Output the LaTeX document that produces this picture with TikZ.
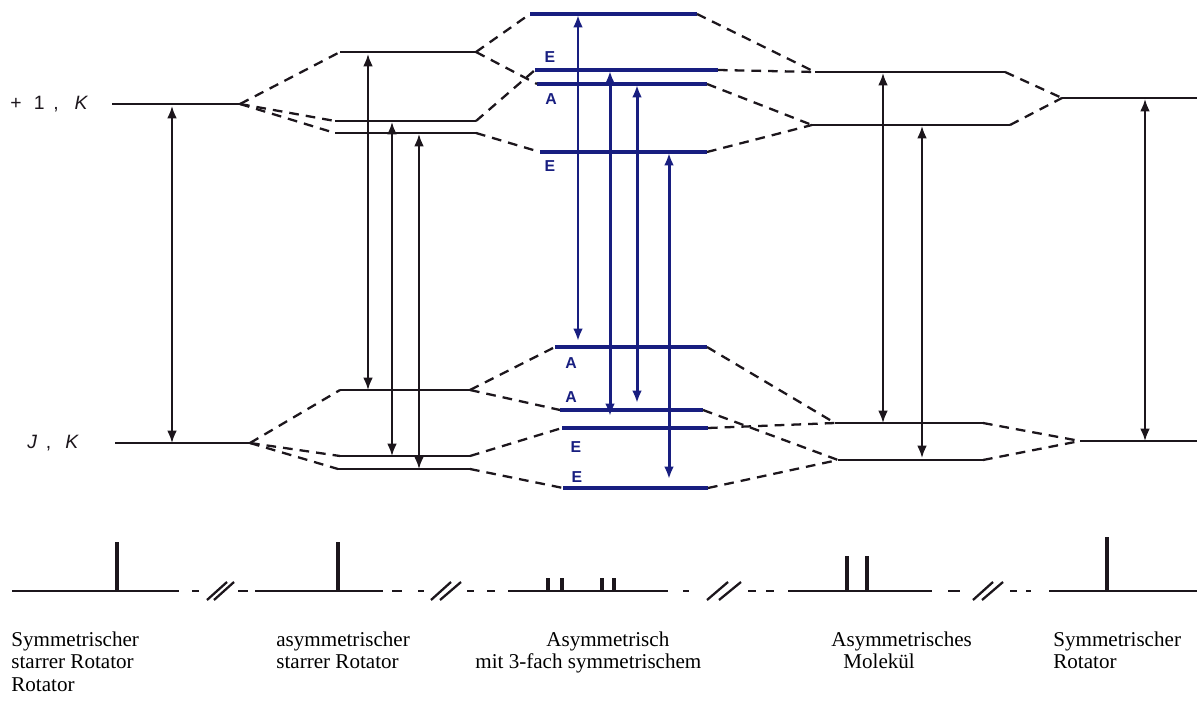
\documentclass[tikz,border=0pt]{standalone}
\usepackage{fontspec}
\setmainfont{Liberation Serif}
\setsansfont{Liberation Sans}
\usetikzlibrary{arrows.meta}
\definecolor{ink}{RGB}{28,22,28}
\definecolor{levelblue}{RGB}{24,30,128}

% energy level: name, x1, x2, y, style
\newcommand\energylevel[5]{%
  \coordinate (#1-w) at (#2,#4);
  \coordinate (#1-e) at (#3,#4);
  \draw[#5] (#1-w) -- (#1-e);}

\begin{document}
\begin{tikzpicture}[x=0.02cm,y=-0.02cm,
  level/.style={ink,line width=1.5pt},
  bluelevel/.style={levelblue,line width=2.1pt},
  corr/.style={ink,line width=1.3pt,dash pattern=on 5.5pt off 4pt},
  trans/.style={ink,line width=1.1pt,{Latex[length=7pt,width=5.5pt]}-{Latex[length=7pt,width=5.5pt]}},
  bluetrans/.style={levelblue,line width=1.7pt,{Latex[length=7pt,width=5.5pt]}-{Latex[length=7pt,width=5.5pt]}},
  sym/.style={levelblue,font=\sffamily\bfseries\fontsize{9}{9}\selectfont,inner sep=0pt},
  qn/.style={ink,font=\sffamily\fontsize{11}{11}\selectfont,anchor=west,inner sep=0pt},
  caption/.style={font=\fontsize{12}{13}\selectfont,anchor=base west,inner sep=0pt},
  base/.style={ink,line width=1.2pt},
  peak/.style={ink,line width=1.8pt},
  cut/.style={ink,line width=1.3pt}]
\useasboundingbox (0,0) rectangle (1197,719);

% ---------- symmetric rigid rotator ----------
\energylevel{s1u}{112}{240}{104}{level}
\energylevel{s1l}{115}{250}{443}{level}
\node[qn] (qnup) at (10,104) {+\hspace{7pt}1\hspace{5pt},\hspace{9pt}\textit{K}};
\node[qn] (qnlow) at (27,443) {\textit{J}\hspace{5pt},\hspace{8pt}\textit{K}};

% ---------- asymmetric rigid rotator ----------
\energylevel{a2}{340}{476}{52}{level}
\energylevel{b2}{335}{476}{121}{level}
\energylevel{c2}{335}{476}{133}{level}
\energylevel{d2}{340}{470}{390}{level}
\energylevel{e2}{340}{470}{456}{level}
\energylevel{f2}{338}{470}{469}{level}

% ---------- asymmetric with threefold symmetric top ----------
\energylevel{t1}{530}{697}{14}{bluelevel}
\energylevel{t2}{535}{718}{70}{bluelevel}
\energylevel{t3}{537}{707}{84}{bluelevel}
\energylevel{t4}{540}{707}{152}{bluelevel}
\energylevel{l1}{555}{707}{347}{bluelevel}
\energylevel{l2}{560}{703}{410}{bluelevel}
\energylevel{l3}{562}{708}{428}{bluelevel}
\energylevel{l4}{563}{708}{488}{bluelevel}
\node[sym] (symE1) at (550,57) {E};
\node[sym] (symA1) at (551,99) {A};
\node[sym] (symE2) at (550,166) {E};
\node[sym] (symA2) at (571,363) {A};
\node[sym] (symA3) at (571,397) {A};
\node[sym] (symE3) at (576,447) {E};
\node[sym] (symE4) at (577,477) {E};

% ---------- asymmetric molecule ----------
\energylevel{m1}{815}{1005}{72}{level}
\energylevel{m2}{812}{1010}{125}{level}
\energylevel{m3}{835}{983}{423}{level}
\energylevel{m4}{838}{983}{460}{level}

% ---------- symmetric rotator ----------
\energylevel{r1}{1062}{1197}{98}{level}
\energylevel{r2}{1080}{1197}{441}{level}

% ---------- correlation lines ----------
\draw[corr] (s1u-e) -- (a2-w);
\draw[corr] (s1u-e) -- (b2-w);
\draw[corr] (s1u-e) -- (c2-w);
\draw[corr] (s1l-e) -- (d2-w);
\draw[corr] (s1l-e) -- (e2-w);
\draw[corr] (s1l-e) -- (f2-w);
\draw[corr] (a2-e) -- (t1-w);
\draw[corr] (a2-e) -- (t3-w);
\draw[corr] (b2-e) -- (t2-w);
\draw[corr] (c2-e) -- (t4-w);
\draw[corr] (d2-e) -- (l1-w);
\draw[corr] (d2-e) -- (l2-w);
\draw[corr] (e2-e) -- (l3-w);
\draw[corr] (f2-e) -- (l4-w);
\draw[corr] (t1-e) -- (m1-w);
\draw[corr] (t2-e) -- (m1-w);
\draw[corr] (t3-e) -- (m2-w);
\draw[corr] (t4-e) -- (m2-w);
\draw[corr] (l1-e) -- (m3-w);
\draw[corr] (l3-e) -- (m3-w);
\draw[corr] (l2-e) -- (m4-w);
\draw[corr] (l4-e) -- (m4-w);
\draw[corr] (m1-e) -- (r1-w);
\draw[corr] (m2-e) -- (r1-w);
\draw[corr] (m3-e) -- (r2-w);
\draw[corr] (m4-e) -- (r2-w);

% ---------- transitions ----------
\coordinate (k1a) at (172,106); \coordinate (k1b) at (172,443);
\coordinate (k2a) at (368,54);  \coordinate (k2b) at (368,390);
\coordinate (k3a) at (392,122); \coordinate (k3b) at (392,456);
\coordinate (k4a) at (419,134); \coordinate (k4b) at (419,469);
\coordinate (k5a) at (578,15);  \coordinate (k5b) at (578,341);
\coordinate (k6a) at (610,71);  \coordinate (k6b) at (610,416);
\coordinate (k7a) at (637,85);  \coordinate (k7b) at (637,403);
\coordinate (k8a) at (669,153); \coordinate (k8b) at (669,479);
\coordinate (k9a) at (883,73);  \coordinate (k9b) at (883,423);
\coordinate (k10a) at (922,126); \coordinate (k10b) at (922,458);
\coordinate (k11a) at (1145,99); \coordinate (k11b) at (1145,441);
\draw[trans] (k1a) -- (k1b);
\draw[trans] (k2a) -- (k2b);
\draw[trans] (k3a) -- (k3b);
\draw[trans] (k4a) -- (k4b);
\draw[bluetrans] (k5a) -- (k5b);
\draw[bluetrans] (k6a) -- (k6b);
\draw[bluetrans] (k7a) -- (k7b);
\draw[bluetrans] (k8a) -- (k8b);
\draw[trans] (k9a) -- (k9b);
\draw[trans] (k10a) -- (k10b);
\draw[trans] (k11a) -- (k11b);

% ---------- spectra along a broken axis ----------
\def\by{591}
\def\cl{600}
\def\ch{582}
\draw[base] (12,\by) -- (179,\by);
\draw[peak] (117,\by) -- (117,542);
\draw[base] (192,\by) -- (199,\by);
\draw[cut] (207,\cl) -- (227,\ch);
\draw[cut] (214,\cl) -- (234,\ch);
\draw[base] (238,\by) -- (248,\by);
\draw[base] (255,\by) -- (383,\by);
\draw[peak] (338,\by) -- (338,542);
\draw[base] (392,\by) -- (402,\by);
\draw[base] (418,\by) -- (424,\by);
\draw[cut] (431,\cl) -- (451,\ch);
\draw[cut] (440,\cl) -- (461,\ch);
\draw[base] (467,\by) -- (474,\by);
\draw[base] (487,\by) -- (495,\by);
\draw[base] (508,\by) -- (668,\by);
\draw[peak] (548,\by) -- (548,578);
\draw[peak] (562,\by) -- (562,578);
\draw[peak] (602,\by) -- (602,578);
\draw[peak] (614,\by) -- (614,578);
\draw[base] (683,\by) -- (689,\by);
\draw[cut] (707,\cl) -- (728,\ch);
\draw[cut] (719,\cl) -- (741,\ch);
\draw[base] (748,\by) -- (756,\by);
\draw[base] (766,\by) -- (774,\by);
\draw[base] (788,\by) -- (932,\by);
\draw[peak] (847,\by) -- (847,556);
\draw[peak] (867,\by) -- (867,556);
\draw[base] (948,\by) -- (960,\by);
\draw[cut] (973,\cl) -- (993,\ch);
\draw[cut] (982,\cl) -- (1003,\ch);
\draw[base] (1010,\by) -- (1017,\by);
\draw[base] (1026,\by) -- (1031,\by);
\draw[base] (1049,\by) -- (1197,\by);
\draw[peak] (1107,\by) -- (1107,537);

% ---------- captions ----------
\node[caption] (c1a) at (11,646) {Symmetrischer};
\node[caption] (c1b) at (11,668) {starrer Rotator};
\node[caption] (c1c) at (11,691) {Rotator};
\node[caption] (c2a) at (276,646) {asymmetrischer};
\node[caption] (c2b) at (276,668) {starrer Rotator};
\node[caption] (c3a) at (546,646) {Asymmetrisch};
\node[caption] (c3b) at (475,668) {mit 3-fach symmetrischem};
\node[caption] (c4a) at (831,646) {Asymmetrisches};
\node[caption] (c4b) at (843,668) {Molekül};
\node[caption] (c5a) at (1053,646) {Symmetrischer};
\node[caption] (c5b) at (1053,668) {Rotator};
\end{tikzpicture}
\end{document}
